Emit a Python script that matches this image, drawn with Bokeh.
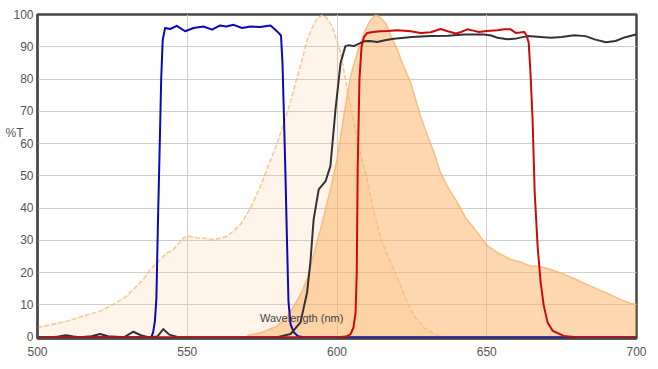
from bokeh.plotting import figure
from bokeh.models import Label, Range1d, FixedTicker
from bokeh.embed import file_html
from bokeh.resources import INLINE

# ---- data ----
x_ticks = [500, 550, 600, 650, 700]
y_ticks = [0, 10, 20, 30, 40, 50, 60, 70, 80, 90, 100]
y_unit_pos = 63.2
y_unit_label = "%T"

exc_x = [500, 505, 510, 515, 520.9, 525, 529.8, 535.4, 537.6, 539.9, 543.2, 545.4, 548.8, 550.4,
         553.2, 556, 558.3, 560.5, 563.3, 565.5, 567.7, 569.5, 571.1, 574.4, 576.6, 578.5, 580,
         582.2, 584.5, 586.7, 588.5, 590, 592, 593.5, 595, 596.5, 598.4, 601.2, 604, 607, 610.1,
         612, 614.5, 617, 620.1, 623, 625.7, 629, 632.4, 635, 637]
exc_y = [3, 4, 5, 6.5, 8.1, 10, 12.8, 18, 20.9, 23.1, 26.1, 27.2, 30.8, 31.3,
         30.8, 30.6, 30.3, 30.6, 31.3, 33, 34.9, 37.5, 40, 46.7, 52, 56.5, 60,
         66.3, 73, 80.7, 86.5, 92.1, 96.5, 98.8, 99.9, 99, 96.3, 88.1, 74, 60, 48.8,
         40, 31, 25, 18.5, 12, 6.6, 3, 1, 0.3, 0]

em_x = [570, 575, 580, 583, 585.6, 588, 590, 592, 594.5, 597.8, 600, 602, 604.5, 607, 609, 611,
        612.9, 614.5, 616.2, 618, 620.1, 622, 624.6, 627.9, 630, 632.4, 634.6, 637, 640.2, 643,
        646.9, 650, 653.6, 655.8, 658, 661, 664.7, 667, 669.2, 672, 675.8, 680, 683, 687, 690,
        693, 695.9, 698, 700]
em_y = [0.5, 1.5, 3.5, 6, 9.7, 13.5, 18, 25, 33.4, 45.8, 55, 67, 80.9, 89, 94.3, 98,
        100, 99, 97.4, 93.5, 89.2, 84.5, 78.9, 68.6, 63, 57.2, 51, 46.5, 41.7, 37,
        32.4, 28.5, 26.2, 25.2, 24.1, 23.4, 22, 22, 21.6, 20.8, 19.5, 17.8, 16.5, 14.9, 13.7,
        12.4, 11.2, 10.5, 10.2]

blue_x = [500, 538, 538.6, 539.2, 539.7, 540.2, 540.7, 541.3, 541.8, 542.6, 544.3, 546.5, 549.3,
          552.1, 555.4, 558.3, 561, 563, 565.5, 568.3, 571.1, 574.4, 577.8, 579.4, 580.5, 581.3,
          581.8, 582.3, 582.8, 583.3, 583.8, 584.5, 585.6, 587, 589, 700]
blue_y = [0, 0, 1.5, 5, 12, 35, 55, 80, 92, 95.8, 95.5, 96.5, 94.8,
          95.8, 96.3, 95.3, 96.6, 96.3, 96.8, 95.8, 96.3, 96.1, 96.6, 95.3, 94.3, 93.5,
          85, 68, 50, 30, 11, 4, 1.5, 0.3, 0, 0]

black_x = [500, 505, 507, 509.5, 512, 514, 518, 520.9, 523.5, 529, 532, 534.5, 537, 540, 542,
           544, 547, 560, 580, 584.5, 587.8, 590, 591.1, 592.2, 593.9, 596.2, 597.8, 599.5,
           601.2, 602.8, 604, 605.6, 607, 609, 611, 613.4, 616, 619, 625, 631.3, 637, 642.4,
           649, 651.5, 653.6, 656.9, 660, 663.6, 667, 671.4, 675, 679.2, 683, 686, 689.8, 693,
           696, 699.8, 700]
black_y = [0, 0, 0.2, 0.6, 0.2, 0, 0.3, 1, 0.3, 0, 1.7, 0.6, 0, 0.2, 2.5,
           0.8, 0, 0, 0, 1, 4.6, 13.8, 23.1, 36.5, 45.8, 48.4, 53, 70.6,
           85, 90.2, 90.5, 90.2, 90.8, 91.7, 91.8, 91.5, 92, 92.5, 93, 93.3, 93.4, 93.8,
           93.8, 93.5, 92.8, 92.3, 92.6, 93.3, 93.1, 92.8, 93.0, 93.6, 93.3, 92.3, 91.4, 91.8,
           92.9, 93.8, 94]

red_x = [500, 600, 603, 604.5, 605.5, 606.2, 606.6, 606.9, 607.5, 608.2, 609, 610.1, 612, 614.5,
         617, 620.1, 622.5, 624.6, 627.9, 631.3, 634.6, 637, 639.6, 641.5, 643.5, 645.5, 647.4,
         650, 653.6, 655.8, 658, 659.7, 661, 662.5, 663.3, 664, 664.6, 665.3, 666, 667, 668, 669,
         670.3, 672, 675.7, 680, 700]
red_y = [0, 0, 0.2, 0.9, 3, 7.6, 20, 52, 80, 90, 93, 94.3, 94.6, 94.8,
         94.9, 95.1, 95, 94.8, 94.3, 94.5, 95.5, 94.8, 94.1, 94.6, 95.4, 95, 94.6,
         94.9, 95.1, 95.4, 95.4, 94.3, 94.4, 94.6, 93.5, 91.3, 82, 67.5, 45, 28, 17, 10,
         4.6, 2, 0.4, 0, 0]

FONT = "Liberation Sans"

p = figure(width=658, height=369, output_backend="svg", toolbar_location=None,
           x_range=Range1d(500, 700), y_range=Range1d(-0.4, 100),
           min_border_left=37, min_border_right=22, min_border_top=14, min_border_bottom=31)
p.background_fill_color = "white"
p.border_fill_color = "white"
p.outline_line_color = "#474747"
p.outline_line_width = 2.5

p.xaxis.ticker = FixedTicker(ticks=x_ticks)
# y axis carries the "%T" unit marker as an extra (overridden) label
p.yaxis.ticker = FixedTicker(ticks=y_ticks + [y_unit_pos])
p.yaxis.major_label_overrides = {y_unit_pos: y_unit_label + "\u00a0\u00a0\u00a0"}
for ax in (p.xaxis[0], p.yaxis[0]):
    ax.major_tick_line_color = None
    ax.minor_tick_line_color = None
    ax.major_tick_out = 0
    ax.major_tick_in = 0
    ax.minor_tick_out = 0
    ax.minor_tick_in = 0
    ax.axis_line_color = "#474747"
    ax.axis_line_width = 2
    ax.major_label_text_font = FONT
    ax.major_label_text_font_size = "12px"
    ax.major_label_text_color = "#555555"
p.xaxis.major_label_standoff = 8
p.yaxis.major_label_standoff = 4

p.xgrid.ticker = FixedTicker(ticks=x_ticks)
p.ygrid.ticker = FixedTicker(ticks=y_ticks)
p.xgrid.grid_line_color = "#cfcfcf"
p.ygrid.grid_line_color = "#cfcfcf"
p.xgrid.grid_line_width = 1
p.ygrid.grid_line_width = 1

# spectra
p.varea(x=exc_x, y1=[0] * len(exc_x), y2=exc_y, fill_color="#fbb46a", fill_alpha=0.15)
p.varea(x=em_x, y1=[0] * len(em_x), y2=em_y, fill_color="#fbb062", fill_alpha=0.5)
p.line(exc_x, exc_y, line_color="#f5b872", line_width=1.5, line_alpha=0.75, line_dash="5 2",
       line_join="round")
p.line(em_x, em_y, line_color="#f5b06a", line_width=1.5, line_alpha=0.75, line_join="round")

# filters
p.line(blue_x, blue_y, line_color="#0a0ab8", line_width=2, line_join="round")
p.line(black_x, black_y, line_color="#333333", line_width=2, line_join="round")
p.line(red_x, red_y, line_color="#cc0a0a", line_width=2, line_join="round")

p.add_layout(Label(x=574.3, y=6.1, text="Wavelength (nm)", text_font=FONT,
                   text_font_size="11px", text_color="#444444",
                   text_baseline="middle", text_align="left"))

open("out.html", "w").write(file_html(p, INLINE))
